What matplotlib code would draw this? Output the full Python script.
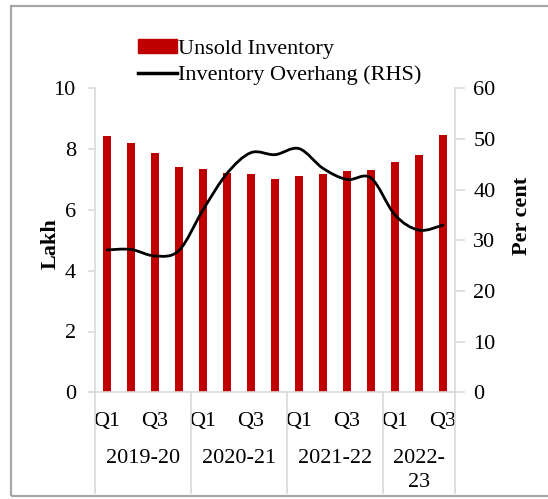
import matplotlib
matplotlib.use("Agg")
import matplotlib.pyplot as plt
from matplotlib.path import Path
from matplotlib.patches import PathPatch, Rectangle
from matplotlib.lines import Line2D
import matplotlib.transforms as mtransforms
import numpy as np

plt.rcParams['font.family'] = ['Liberation Serif', 'DejaVu Serif']

# ---- data ----
years = ["2019-20", "2020-21", "2021-22", "2022-\n23"]
quarters_per_year = [4, 4, 4, 3]
quarter_labels = ["Q1", "Q2", "Q3", "Q4", "Q1", "Q2", "Q3", "Q4",
                  "Q1", "Q2", "Q3", "Q4", "Q1", "Q2", "Q3"]
unsold_inventory = [8.44, 8.20, 7.88, 7.42, 7.35, 7.23, 7.18, 7.02,
                    7.10, 7.18, 7.27, 7.32, 7.58, 7.81, 8.47]
inventory_overhang = [28.1, 28.2, 26.9, 28.0, 36.0, 43.2, 47.3, 46.9,
                      48.1, 44.2, 42.0, 42.3, 35.0, 32.0, 33.0]

RED = "#C00000"
GRID = "#d9d9d9"
FS = 16

fig = plt.figure(figsize=(5.48, 4.99), dpi=100)
W, H = 548, 499
ax = fig.add_axes([95 / W, 1 - 392.3 / H, 360 / W, (392.3 - 88.3) / H])
ax2 = ax.twinx()

x = np.arange(len(unsold_inventory))
ax.bar(x, unsold_inventory, width=0.35, color=RED, zorder=2)
ax.set_xlim(-0.5, len(x) - 0.5)
ax.set_ylim(0, 10)
ax.set_yticks(np.arange(0, 11, 2))
ax2.set_ylim(0, 60)
ax2.set_yticks(np.arange(0, 61, 10))

# smoothed line (Catmull-Rom -> cubic Bezier)
pts = np.column_stack([x, inventory_overhang]).astype(float)
verts = [pts[0]]
codes = [Path.MOVETO]
n = len(pts)
for i in range(n - 1):
    p0 = pts[i - 1] if i > 0 else pts[i]
    p1 = pts[i]
    p2 = pts[i + 1]
    p3 = pts[i + 2] if i + 2 < n else pts[i + 1]
    c1 = p1 + (p2 - p0) / 6.0
    c2 = p2 - (p3 - p1) / 6.0
    verts += [c1, c2, p2]
    codes += [Path.CURVE4] * 3
ax2.add_patch(PathPatch(Path(verts, codes), facecolor="none",
                        edgecolor="black", lw=2.0, zorder=3, capstyle="round"))

# spines
for a in (ax, ax2):
    a.spines['top'].set_visible(False)
    for s in ('left', 'right', 'bottom'):
        a.spines[s].set_color(GRID)
        a.spines[s].set_linewidth(1.2)
ax.spines['right'].set_visible(False)
ax2.spines['left'].set_visible(False)
ax2.spines['bottom'].set_visible(False)

ax.tick_params(axis='y', length=4.8, width=1.2, color=GRID, pad=9.0,
               labelsize=FS, labelcolor='black')
ax2.tick_params(axis='y', length=7.2, width=1.2, color=GRID, pad=6.0,
                labelsize=FS, labelcolor='black')

ax.set_xticks(x)
ax.set_xticklabels([q if i % 2 == 0 else "" for i, q in enumerate(quarter_labels)])
ax.tick_params(axis='x', length=0, pad=14, labelsize=FS)

ax.set_ylabel("Lakh", fontsize=FS, fontweight='bold')
ax.yaxis.set_label_coords(-0.095, 0.488)
ax2.set_ylabel("Per cent", fontsize=FS, fontweight='bold')
ax2.yaxis.set_label_coords(1.157, 0.58)

# year group labels and separators
trans = mtransforms.blended_transform_factory(ax.transData, ax.transAxes)
start = 0
bounds = [-0.5]
for yr, nq in zip(years, quarters_per_year):
    center = start + (nq - 1) / 2.0
    ax.text(center, -0.188, yr, transform=trans, ha='center', va='top',
            fontsize=FS, linespacing=1.3)
    start += nq
    bounds.append(start - 0.5)
for b in bounds:
    ax.add_line(Line2D([b, b], [0, -0.331], transform=trans, color=GRID,
                       lw=1.2, clip_on=False))

# legend
handles = [Rectangle((0, 0), 1, 1, color=RED),
           Line2D([], [], color='black', lw=2.5)]
fig.legend(handles, ["Unsold Inventory", "Inventory Overhang (RHS)"],
           loc='upper left', bbox_to_anchor=(138 / W, 1 - 39 / H),
           frameon=False, fontsize=FS, borderpad=0, borderaxespad=0,
           handlelength=1.75, handleheight=0.6, handletextpad=0.07,
           labelspacing=0.28)

# outer frame
fig.add_artist(Rectangle((11 / W, 3 / H), 1.2, (493 - 3) / H,
                         transform=fig.transFigure, fill=False,
                         edgecolor="#a6a6a6", lw=1.6))

fig.savefig("out.png", dpi=100)
